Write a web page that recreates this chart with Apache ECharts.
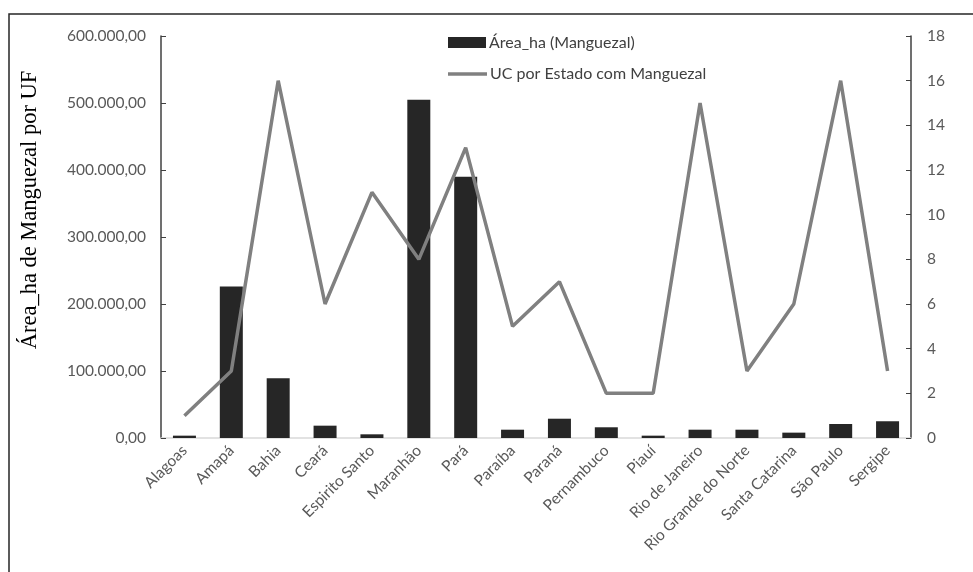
<!DOCTYPE html>
<html>
<head>
<meta charset="utf-8">
<script src="https://cdn.jsdelivr.net/npm/echarts@6/dist/echarts.min.js"></script>
<style>
  html, body { margin: 0; padding: 0; background: #fff; }
  #chart { width: 973px; height: 572px; }
</style>
</head>
<body>
<div id="chart"></div>
<script>
// Mangrove area (ha) and number of protected areas (UC) per Brazilian state
const estados = ['Alagoas', 'Amapá', 'Bahia', 'Ceará', 'Espirito Santo', 'Maranhão', 'Pará', 'Paraíba',
  'Paraná', 'Pernambuco', 'Piauí', 'Rio de Janeiro', 'Rio Grande do Norte', 'Santa Catarina', 'São Paulo', 'Sergipe'];
const areaHa = [3500, 226000, 89000, 18400, 5500, 505000, 390000, 12400,
  28800, 16000, 3500, 12400, 12400, 8000, 20900, 25000];
const ucPorEstado = [1, 3, 16, 6, 11, 8, 13, 5, 7, 2, 2, 15, 3, 6, 16, 3];

const nomeArea = 'Área_ha (Manguezal)';
const nomeUC = 'UC por Estado com Manguezal';

function formatoBR(v) {
  const partes = v.toFixed(2).split('.');
  partes[0] = partes[0].replace(/\B(?=(\d{3})+(?!\d))/g, '.');
  return partes.join(',');
}

const fonte = 'Lato, "Open Sans", sans-serif';
const corTexto = '#595959';
const legendaTexto = { color: '#404040', fontSize: 16, fontFamily: fonte, padding: [0, 0, 0, -2] };

const chart = echarts.init(document.getElementById('chart'));
chart.setOption({
  animation: false,
  textStyle: { fontFamily: fonte },
  graphic: [{
    type: 'rect',
    shape: { x: 9, y: 14, width: 1000, height: 600 },
    style: { fill: 'none', stroke: '#262626', lineWidth: 1.5 },
    silent: true,
    z: -1
  }],
  legend: [{
    left: 443,
    top: 29.5,
    itemWidth: 38,
    itemHeight: 11,
    textStyle: legendaTexto,
    data: [{ name: nomeArea, icon: 'rect' }]
  }, {
    left: 443,
    top: 61,
    itemWidth: 39,
    itemHeight: 3.5,
    textStyle: legendaTexto,
    data: [{ name: nomeUC, icon: 'rect', itemStyle: { color: '#808080' } }]
  }],
  grid: { left: 161, right: 62, top: 36, bottom: 134, containLabel: false },
  xAxis: {
    type: 'category',
    data: estados,
    axisLine: { lineStyle: { color: '#d9d9d9', width: 1.5 } },
    axisTick: { show: false },
    axisLabel: { rotate: 45, color: corTexto, fontSize: 15.5, interval: 0, margin: 10 }
  },
  yAxis: [{
    type: 'value',
    min: 0, max: 600000, interval: 100000,
    name: 'Área_ha de Manguezal por UF',
    nameLocation: 'middle',
    nameRotate: 90,
    nameGap: 119,
    nameTextStyle: {
      fontFamily: '"Liberation Serif", "DejaVu Serif", serif',
      fontSize: 22.5,
      color: '#000',
      padding: [0, 0, 0, 54]
    },
    axisLine: { show: true, lineStyle: { color: '#404040', width: 1.5 } },
    axisTick: { show: true, inside: true, length: 5, lineStyle: { color: '#404040' } },
    splitLine: { show: false },
    axisLabel: { color: corTexto, fontSize: 15.5, margin: 15, formatter: formatoBR }
  }, {
    type: 'value',
    min: 0, max: 18, interval: 2,
    position: 'right',
    axisLine: { show: true, lineStyle: { color: '#404040', width: 1.5 } },
    axisTick: { show: true, inside: true, length: 5, lineStyle: { color: '#404040' } },
    splitLine: { show: false },
    axisLabel: { color: corTexto, fontSize: 15.5, margin: 16 }
  }],
  series: [{
    name: nomeArea,
    type: 'bar',
    data: areaHa,
    barWidth: 23,
    itemStyle: { color: '#262626' },
    yAxisIndex: 0
  }, {
    name: nomeUC,
    type: 'line',
    data: ucPorEstado,
    yAxisIndex: 1,
    symbol: 'none',
    lineStyle: { color: '#808080', width: 3.5 },
    itemStyle: { color: '#808080' },
    z: 3
  }]
});
</script>
</body>
</html>
